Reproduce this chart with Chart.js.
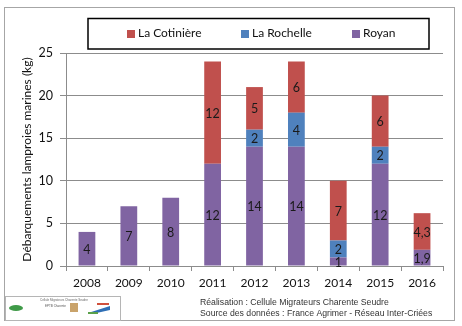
<!DOCTYPE html>
<html>
<head>
<meta charset="utf-8">
<script src="https://cdn.jsdelivr.net/npm/chart.js@4/dist/chart.umd.min.js"></script>
<style>
  html, body { margin: 0; padding: 0; background: #fff; }
  #wrap { width: 462px; height: 326px; position: relative; }
</style>
</head>
<body>
<div id="wrap"><canvas id="myChart" width="462" height="326"></canvas></div>
<script>
var ctx = document.getElementById('myChart').getContext('2d');

// landings per port, kg
var lbls_year = ['2008','2009','2010','2011','2012','2013','2014','2015','2016'];
var data_royan = [4, 7, 8, 12, 14, 14, 1, 12, 1.9];
var data_rochelle = [0, 0, 0, 0, 2, 4, 2, 2, 0];
var data_cotiniere = [0, 0, 0, 12, 5, 6, 7, 6, 4.3];
var y_ticks = [0, 5, 10, 15, 20, 25];

var FONT = 'Lato, "Open Sans", sans-serif';
var gridCol = '#8c8c8c';

// value labels in the middle of each stacked piece
var segLabels = {
  id: 'segLabels',
  afterDatasetsDraw: function(chart) {
    var c = chart.ctx;
    c.save();
    c.font = '12.5px ' + FONT;
    c.fillStyle = '#1a1a1a';
    c.textAlign = 'center';
    c.textBaseline = 'middle';
    chart.data.datasets.forEach(function(ds, i) {
      chart.getDatasetMeta(i).data.forEach(function(bar, j) {
        var v = ds.data[j];
        if (!v) return;
        c.fillText(String(v).replace('.', ','), bar.x, (bar.y + bar.base) / 2 + 1);
      });
    });
    c.restore();
  }
};

// frame, boxed legend, credits and logo strip
var decor = {
  id: 'decor',
  beforeDraw: function(chart) {
    var c = chart.ctx;
    c.save();
    c.fillStyle = '#fff';
    c.fillRect(0, 0, chart.width, chart.height);
    c.strokeStyle = '#a6a6a6';
    c.lineWidth = 1;
    c.strokeRect(4.5, 7.5, 450, 313);
    c.restore();
  },
  afterDraw: function(chart) {
    var c = chart.ctx;
    c.save();
    // legend box
    c.strokeStyle = '#000';
    c.lineWidth = 1.5;
    c.strokeRect(88, 18.5, 341, 30.5);
    var order = [2, 1, 0];
    var xs = [127, 241, 352];
    c.font = '12px ' + FONT;
    c.textBaseline = 'middle';
    order.forEach(function(di, k) {
      var ds = chart.data.datasets[di];
      c.fillStyle = ds.backgroundColor;
      c.fillRect(xs[k], 30, 8, 8);
      c.fillStyle = '#111';
      c.fillText(ds.label, xs[k] + 11, 33.5);
    });
    // credits
    c.font = '8.7px "Liberation Sans", Arial, sans-serif';
    c.fillStyle = '#333';
    c.textBaseline = 'middle';
    c.fillText('Réalisation : Cellule Migrateurs Charente Seudre', 200, 303);
    c.fillText('Source des données : France Agrimer - Réseau Inter-Criées', 200, 314);
    // logo strip
    c.textBaseline = 'alphabetic';
    c.strokeStyle = '#b5b5b5';
    c.lineWidth = 1;
    c.strokeRect(5.5, 296.5, 115, 24);
    c.font = '3px sans-serif';
    c.fillStyle = '#666';
    c.fillText('Cellule Migrateurs Charente Seudre', 40, 301);
    c.fillStyle = '#3f9a48';
    c.beginPath(); c.ellipse(16, 308, 7, 3, 0, 0, Math.PI * 2); c.fill();
    c.fillStyle = '#555';
    c.fillText('EPTB Charente', 45, 307);
    c.fillStyle = '#c9a36b';
    c.fillRect(70, 303, 8, 9);
    c.fillStyle = '#d0503c';
    c.fillRect(97, 303, 12, 2);
    c.fillStyle = '#2f6fb5';
    c.beginPath(); c.moveTo(88, 313); c.lineTo(110, 306); c.lineTo(110, 310); c.lineTo(92, 314); c.fill();
    c.fillStyle = '#5aa04a';
    c.fillRect(88, 312, 10, 2);
    c.restore();
  }
};

var myChart = new Chart(ctx, {
  type: 'bar',
  data: {
    labels: lbls_year,
    datasets: [
      { label: 'Royan', data: data_royan, backgroundColor: '#8064a2' },
      { label: 'La Rochelle', data: data_rochelle, backgroundColor: '#4f81bd' },
      { label: 'La Cotinière', data: data_cotiniere, backgroundColor: '#c0504d' }
    ]
  },
  options: {
    responsive: false,
    animation: false,
    events: [],
    categoryPercentage: 1,
    barPercentage: 0.4,
    layout: { padding: { top: 53, left: 16, right: 19, bottom: 0 } },
    plugins: {
      legend: { display: false },
      tooltip: { enabled: false }
    },
    scales: {
      x: {
        stacked: true,
        afterFit: function(s) { s.height = 60; },
        grid: { drawOnChartArea: false, drawTicks: true, tickLength: 5, color: gridCol, offset: true },
        border: { color: gridCol },
        ticks: { color: '#111', font: { family: FONT, size: 12 }, padding: 5, maxRotation: 0 }
      },
      y: {
        stacked: true,
        min: 0,
        max: 25,
        afterFit: function(s) { s.width = 50; },
        afterBuildTicks: function(s) { s.ticks = y_ticks.map(function(v) { return { value: v }; }); },
        grid: { color: gridCol, tickLength: 6 },
        border: { color: gridCol },
        ticks: { color: '#111', font: { family: FONT, size: 12.5 }, padding: 7 },
        title: {
          display: true,
          text: 'Débarquements lamproies marines (kg)',
          color: '#111',
          font: { family: FONT, size: 12 },
          padding: { top: 4, bottom: 0 }
        }
      }
    }
  },
  plugins: [decor, segLabels]
});
</script>
</body>
</html>
